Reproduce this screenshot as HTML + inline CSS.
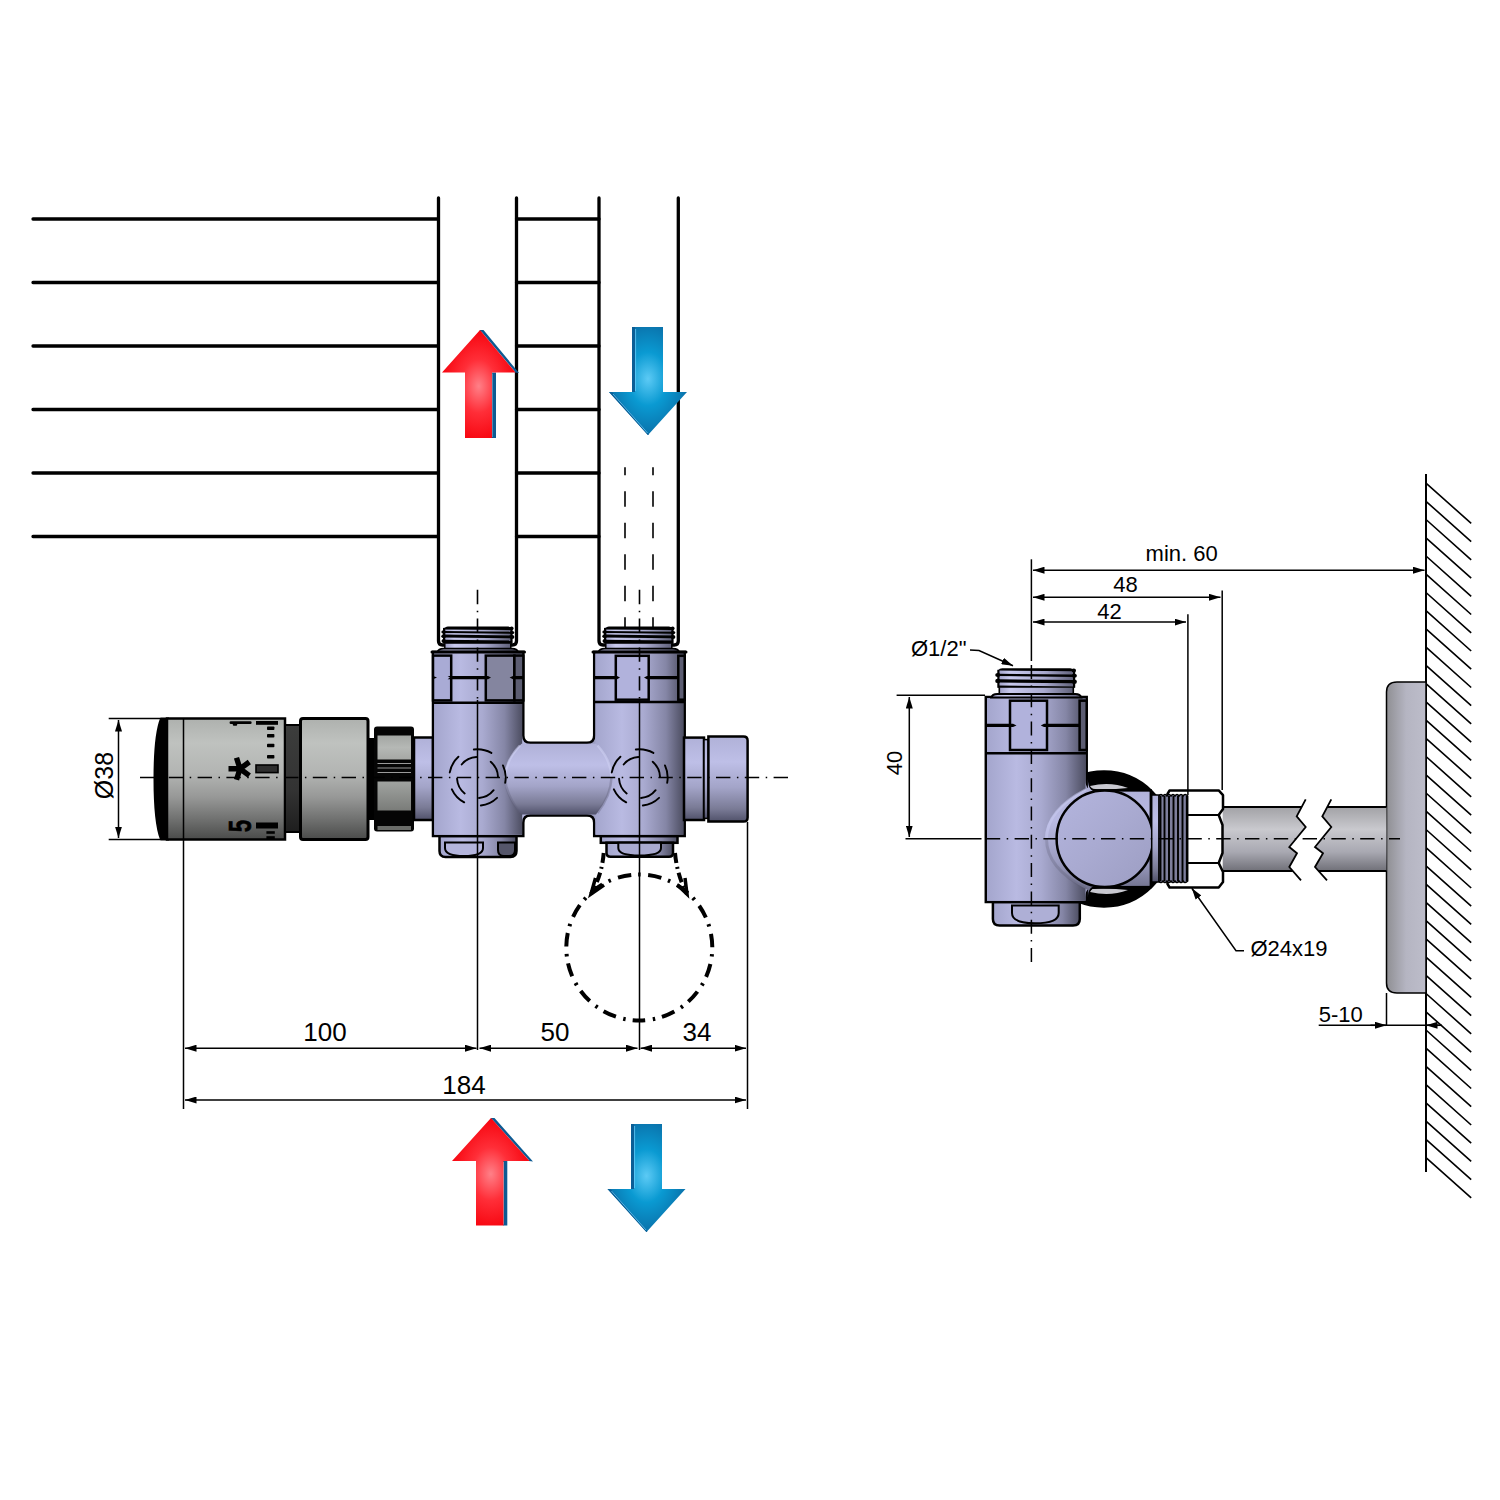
<!DOCTYPE html>
<html><head><meta charset="utf-8">
<style>
html,body{margin:0;padding:0;background:#fff;width:1500px;height:1500px;overflow:hidden}
svg{display:block}
text{font-family:"Liberation Sans",sans-serif;fill:#000}
</style></head>
<body>
<svg width="1500" height="1500" viewBox="0 0 1500 1500">
<defs>
  <linearGradient id="gBody" x1="0" x2="1" y1="0" y2="0">
    <stop offset="0" stop-color="#a4a6cd"/>
    <stop offset="0.3" stop-color="#b9bae2"/>
    <stop offset="0.55" stop-color="#a9aad0"/>
    <stop offset="0.8" stop-color="#8586a6"/>
    <stop offset="1" stop-color="#4d4e62"/>
  </linearGradient>
  <linearGradient id="gHoriz" x1="0" x2="0" y1="0" y2="1">
    <stop offset="0" stop-color="#b0b1d8"/>
    <stop offset="0.3" stop-color="#bebfe7"/>
    <stop offset="0.6" stop-color="#a3a4c8"/>
    <stop offset="0.85" stop-color="#7a7b96"/>
    <stop offset="1" stop-color="#50516a"/>
  </linearGradient>
  <linearGradient id="gGrey" x1="0" x2="0" y1="0" y2="1">
    <stop offset="0" stop-color="#aeb1ae"/>
    <stop offset="0.2" stop-color="#bfc2bf"/>
    <stop offset="0.45" stop-color="#b3b5b3"/>
    <stop offset="0.65" stop-color="#979897"/>
    <stop offset="0.85" stop-color="#6c6d6c"/>
    <stop offset="1" stop-color="#4a4b4a"/>
  </linearGradient>
  <linearGradient id="gDark" x1="0" x2="0" y1="0" y2="1">
    <stop offset="0" stop-color="#3c3d3c"/>
    <stop offset="0.6" stop-color="#333"/>
    <stop offset="1" stop-color="#1e1e1e"/>
  </linearGradient>
  <linearGradient id="gPipe" x1="0" x2="0" y1="0" y2="1">
    <stop offset="0" stop-color="#a2a2a6"/>
    <stop offset="0.35" stop-color="#c9c9ce"/>
    <stop offset="0.7" stop-color="#a9a9b2"/>
    <stop offset="1" stop-color="#707078"/>
  </linearGradient>
  <linearGradient id="gPlate" x1="0" x2="1" y1="0" y2="0">
    <stop offset="0" stop-color="#8f8f93"/>
    <stop offset="0.5" stop-color="#b5b5c2"/>
    <stop offset="1" stop-color="#bdbdca"/>
  </linearGradient>
  <radialGradient id="gRed" cx="0.5" cy="0.52" r="0.55">
    <stop offset="0" stop-color="#ff8088"/>
    <stop offset="0.45" stop-color="#ff2e38"/>
    <stop offset="1" stop-color="#f6000a"/>
  </radialGradient>
  <radialGradient id="gBlue" cx="0.5" cy="0.48" r="0.55">
    <stop offset="0" stop-color="#5ccaf5"/>
    <stop offset="0.45" stop-color="#0a9ad2"/>
    <stop offset="1" stop-color="#0a6da6"/>
  </radialGradient>
  <marker id="ah" viewBox="0 0 11.5 7" refX="11.5" refY="3.5" markerWidth="11.5" markerHeight="7" markerUnits="userSpaceOnUse" orient="auto-start-reverse">
    <path d="M0,0 L11.5,3.5 L0,7 z" fill="#000"/>
  </marker>
  <linearGradient id="gThr" x1="0" x2="1" y1="0" y2="0">
    <stop offset="0" stop-color="#9fa0c6"/>
    <stop offset="0.15" stop-color="#c9caee"/>
    <stop offset="0.6" stop-color="#a9aacf"/>
    <stop offset="1" stop-color="#5f6078"/>
  </linearGradient>
  <g id="threadV">
    <!-- origin = thread top-left; width 75.9, body top at y=29.2 -->
    <rect x="1" y="18" width="74" height="8" fill="url(#gThr)" stroke="#000" stroke-width="1.6"/>
    <path d="M-7,29.2 Q-6,25.6 -1,25.6 H77 Q82,25.6 83,29.2 Z" fill="url(#gThr)" stroke="#000" stroke-width="2"/>
    <rect x="0" y="1" width="75.9" height="18" fill="url(#gThr)"/>
    <g fill="#000">
      <path d="M4,0 H72 Q75,0 76,2.5 L76,3 L0,2.2 Q1,0 4,0 Z"/>
      <path d="M0,5.4 L76,6.2 L76,8.6 L0,7.8 Z"/>
      <path d="M0,11 L76,11.8 L76,15 L0,14.2 Z"/>
      <path d="M0,17.3 L76,18.1 L76,19.5 L0,19.5 Z"/>
      <ellipse cx="-0.5" cy="6.6" rx="2.6" ry="2"/>
      <ellipse cx="-0.5" cy="12.6" rx="2.6" ry="2.2"/>
      <ellipse cx="76" cy="7.4" rx="2.6" ry="2"/>
      <ellipse cx="76" cy="13.4" rx="2.6" ry="2.2"/>
      <ellipse cx="75.5" cy="2.2" rx="2.2" ry="2"/>
      <rect x="-1" y="1.5" width="2.2" height="18"/>
      <rect x="74.7" y="1.5" width="2.2" height="18"/>
    </g>
  </g>
  <g id="threadL">
    <!-- origin = thread top-left; width 67.6, body top at y=25.6 -->
    <rect x="0.8" y="16" width="66" height="6.6" fill="url(#gThr)" stroke="#000" stroke-width="1.5"/>
    <path d="M-6.5,25.6 Q-5.5,22.2 -0.5,22.2 H68.1 Q73.1,22.2 74.1,25.6 Z" fill="url(#gThr)" stroke="#000" stroke-width="1.8"/>
    <rect x="0" y="1" width="67.6" height="16" fill="url(#gThr)"/>
    <g fill="#000">
      <path d="M4,0 H64 Q67,0 68,2.5 L68,3.6 L0,3 Q1,0 4,0 Z"/>
      <path d="M0,4.6 L68,5.4 L68,7.4 L0,6.6 Z"/>
      <path d="M0,8.2 L68,9 L68,11.8 L0,11 Z"/>
      <path d="M0,13.4 L68,14.2 L68,17.4 L0,17.4 Z"/>
      <ellipse cx="-0.3" cy="5.6" rx="2.4" ry="1.7"/>
      <ellipse cx="-0.3" cy="9.8" rx="2.4" ry="1.9"/>
      <ellipse cx="-0.3" cy="14.6" rx="2.2" ry="1.9"/>
      <ellipse cx="68" cy="6.2" rx="2.4" ry="1.7"/>
      <ellipse cx="68" cy="10.6" rx="2.4" ry="1.9"/>
      <ellipse cx="67.6" cy="2" rx="2" ry="1.8"/>
      <rect x="-1" y="1.5" width="2.2" height="15.5"/>
      <rect x="66.4" y="1.5" width="2.2" height="15.5"/>
    </g>
  </g>
  <linearGradient id="gCirc" x1="0" x2="1" y1="0" y2="1">
    <stop offset="0" stop-color="#b4b5de"/>
    <stop offset="0.5" stop-color="#a9aad1"/>
    <stop offset="1" stop-color="#9c9dc2"/>
  </linearGradient>
  <linearGradient id="gBlock" x1="0" x2="0" y1="0" y2="1">
    <stop offset="0" stop-color="#aeafd6"/>
    <stop offset="0.35" stop-color="#b9bae3"/>
    <stop offset="0.7" stop-color="#9a9bbf"/>
    <stop offset="1" stop-color="#62637c"/>
  </linearGradient>
  <linearGradient id="gWinU" x1="0" x2="0" y1="0" y2="1">
    <stop offset="0" stop-color="#a3a6a3"/>
    <stop offset="0.5" stop-color="#b5b8b5"/>
    <stop offset="1" stop-color="#a6a8a5"/>
  </linearGradient>
  <linearGradient id="gWinL" x1="0" x2="0" y1="0" y2="1">
    <stop offset="0" stop-color="#a0a3a0"/>
    <stop offset="1" stop-color="#7a7c79"/>
  </linearGradient>
</defs>
<!-- radiator -->
<g stroke="#000" stroke-width="3.3" stroke-linecap="round" fill="none">
  <path d="M33,219H438 M33,282.5H438 M33,346H438 M33,409.5H438 M33,473H438 M33,536.5H438"/>
  <path d="M516.5,219H599 M516.5,282.5H599 M516.5,346H599 M516.5,409.5H599 M516.5,473H599 M516.5,536.5H599"/>
  <path d="M438.5,198V641 Q438.5,645 442.5,645 H445 M516.5,198V641 Q516.5,645 512.5,645 H510"/>
  <path d="M599,198V641 Q599,645 603,645 H606 M678.3,198V641 Q678.3,645 674.3,645 H672"/>
</g>
<g stroke="#000" stroke-width="1.6" stroke-dasharray="15.5,16" stroke-dashoffset="7.5" fill="none">
  <path d="M625,467.3V630 M653,467.3V630"/>
</g>

<!-- arrows top -->
<path d="M479.5,330 L483.5,330 L519,373 L515,372.5 Z M491.5,372.5 H496 V438 H491.5 Z" fill="#0d5a92"/>
<path d="M481,331.5 L514.5,371.5 M492,373.5 V437" stroke="#ffffff" stroke-width="0.8" opacity="0.7"/>
<path d="M480,330 L515.5,372.5 L492,372.5 L492,438 L465,438 L465,372.5 L442,372.5 Z" fill="url(#gRed)"/>
<path d="M632,327 H663 V392 H687 L648,435 L609,392 H632 Z" fill="url(#gBlue)"/>
<path d="M632,327 H635 V392 H632 Z M609,392 L612.5,392.5 L649,435 L647.8,435 Z" fill="#0b5e96"/>
<path d="M635.6,329 V391 M613,394 L647.5,433" stroke="#6fd3ff" stroke-width="0.9" opacity="0.8" fill="none"/>
<!-- arrows bottom -->
<path d="M490.5,1118 L494.5,1118 L533,1161.5 L529,1161 Z M503,1161 H507.3 V1225.5 H503 Z" fill="#0d5a92"/>
<path d="M492,1119.5 L528.5,1160 M503.5,1162 V1224.5" stroke="#ffffff" stroke-width="0.8" opacity="0.7"/>
<path d="M491,1118 L529.5,1161 L503.5,1161 L503.5,1225.5 L476,1225.5 L476,1161 L452,1161 Z" fill="url(#gRed)"/>
<path d="M631,1124 H662 V1189 H685.5 L646.5,1232 L607.5,1189 H631 Z" fill="url(#gBlue)"/>
<path d="M631,1124 H634 V1189 H631 Z M607.5,1189 L611,1189.5 L647.5,1232 L646.3,1232 Z" fill="#0b5e96"/>
<path d="M634.6,1126 V1188 M611.5,1191 L646,1230" stroke="#6fd3ff" stroke-width="0.9" opacity="0.8" fill="none"/>

<!-- threads on pipes -->
<use href="#threadL" transform="translate(444,626.4)"/>
<use href="#threadL" transform="translate(605,626.4)"/>

<!-- ===== thermostat head ===== -->
<path d="M168,718.5 H161 Q154.5,735 154.5,779 Q154.5,823 161,839.5 H168 Z" fill="#000" stroke="#000" stroke-width="2"/>
<rect x="167" y="718.5" width="118" height="121" fill="url(#gGrey)" stroke="#000" stroke-width="2.5"/>
<rect x="285" y="725" width="15.5" height="107" fill="url(#gDark)" stroke="#000" stroke-width="2"/>
<rect x="300.5" y="718.5" width="67.5" height="121" rx="2.5" fill="url(#gGrey)" stroke="#000" stroke-width="3"/>
<rect x="367" y="738" width="8" height="82" fill="#000"/>
<rect x="374" y="726.5" width="40" height="105" rx="3" fill="#050505"/>
<rect x="377.5" y="735.5" width="33.5" height="24" fill="url(#gWinU)"/>
<rect x="377.5" y="781.5" width="33.5" height="29" fill="url(#gWinL)"/>
<rect x="377.5" y="826" width="33.5" height="4" fill="#6a6c69"/>
<path d="M377.5,763.5H411 M377.5,768H411 M377.5,772.5H411" stroke="#9a9a9a" stroke-width="1"/>
<!-- dial marks -->
<g fill="#000">
  <rect x="256" y="721" width="22" height="3.8"/>
  <rect x="267" y="726.5" width="7.4" height="3.5" rx="0.8"/>
  <rect x="267" y="734" width="7.4" height="3.5" rx="0.8"/>
  <rect x="267" y="743.8" width="7.4" height="3.5" rx="0.8"/>
  <rect x="267" y="755" width="7.4" height="3.5" rx="0.8"/>
  <rect x="256" y="765" width="22" height="7.6" fill="#2e2e2e" stroke="#000" stroke-width="1.6"/>
  <rect x="256" y="822.5" width="22" height="6"/>
  <rect x="266.4" y="831.2" width="8.4" height="2.6" />
  <rect x="266.4" y="836.2" width="8.4" height="2.8" />
  <rect x="229.6" y="721.2" width="22" height="2.8" rx="1.2"/><rect x="232.8" y="722" width="4.4" height="3.8" rx="1"/>
  <text transform="translate(251,826) rotate(-90) scale(0.72,1)" font-size="31" font-weight="bold" text-anchor="middle" stroke="#000" stroke-width="0.6">5</text>
  <g transform="translate(240,768.8)" stroke="#000" stroke-width="5.4" stroke-linecap="butt">
    <path d="M0,0 L-11.5,0 M0,0 L-3.5,-11 M0,0 L9.3,-6.8 M0,0 L9.3,6.8 M0,0 L-3.5,11"/>
  </g>
</g>

<!-- lavender extension left -->
<rect x="414" y="737.5" width="19" height="82.5" fill="url(#gHoriz)" stroke="#000" stroke-width="2.5"/>

<!-- ===== left view valve ===== -->
<g stroke="#000" stroke-width="2.5">
  <!-- caps -->
  <path d="M439.5,836 H516.5 V851 Q516.5,857 510.5,857 H445.5 Q439.5,857 439.5,851 Z" fill="url(#gBody)"/>
  <path d="M445,842.5 H483 V848 Q483,856 464,856 Q445,856 445,848 Z" fill="#b4b5dc" stroke-width="2"/>
  <path d="M498,842.5 H515 V850 Q515,856 509,856 H504 Q498,856 498,850 Z" fill="#55566a" stroke-width="2"/>
  <rect x="600.8" y="836" width="76.7" height="6.8" fill="url(#gBody)"/>
  <path d="M606.5,842.7 H673 V853 Q673,856.7 669,856.7 H610.5 Q606.5,856.7 606.5,853 Z" fill="url(#gBody)"/>
  <path d="M618.3,842.7 H661 V848 Q661,855.5 639.6,855.5 Q618.3,855.5 618.3,848 Z" fill="#a9aad0" stroke-width="2"/>
  <!-- body outline combined -->
  <path d="M433,652 H523.3 V735.5 Q523.3,742.8 530.5,742.8 H587 Q594.2,742.8 594.2,735.5 V652 H684.7 V836 H594.2 V822.8 Q594.2,815.6 587,815.6 H530.5 Q523.3,815.6 523.3,822.8 V836 H433 Z" fill="url(#gBody)"/>
</g>
<!-- cylinder gradient overlays -->
<rect x="434.2" y="653.2" width="88" height="181.6" fill="url(#gBody)"/>
<rect x="595.4" y="653.2" width="88.1" height="181.6" fill="url(#gBody)"/>
<!-- bridge -->
<path d="M521.5,743.8 Q505,760 504,777.5 Q505,795 521.5,814.6 H596 Q611,795 612.5,777.5 Q611,760 596,743.8 Z" fill="url(#gHoriz)"/>
<path d="M520,745.5 Q506,760 505,777.5 M597.5,745.5 Q611,760 611.5,777.5" stroke="#cdcef2" stroke-width="2.5" fill="none" opacity="0.6"/>
<path d="M505,777.5 Q506,795 520,813 M611.5,777.5 Q611,795 597.5,813" stroke="#5e5f78" stroke-width="2.5" fill="none" opacity="0.35"/>

<!-- hex flats left valve -->
<g stroke="#000" stroke-width="2.5">
  <rect x="433" y="655.6" width="18.2" height="44.8" fill="#a9abd5"/>
  <rect x="485.8" y="655.6" width="28.6" height="44.8" fill="#84859f"/>
  <rect x="514.4" y="655.6" width="9" height="44.8" fill="#5c5d72"/>
</g>
<g stroke="#000" stroke-width="2.5">
  <rect x="615.8" y="655.8" width="32.9" height="43.9" fill="#b1b2dc"/>
  <rect x="678.3" y="655.8" width="6.4" height="43.9" fill="#5c5d72"/>
</g>
<path d="M433,702.8 H523.3 M594.2,702 H684.7" stroke="#000" stroke-width="2.5"/>
<path d="M432,652 H524.5 M593,652 H686" stroke="#000" stroke-width="3" stroke-linecap="round"/>
<g fill="#000">
  <path d="M447.6,676 H488 L491,677.6 L488,679.2 H447.6 L450,677.6 Z"/>
  <path d="M509.6,677.6 L513,676 H523.3 V679.2 H513 Z"/>
  <path d="M433,676 L437,677.6 L433,679.2 Z"/>
  <path d="M594.2,676 H617 L620,677.6 L617,679.2 H594.2 Z"/>
  <path d="M644,677.6 L647,676 H678.3 V679.2 H647 Z"/>
</g>

<!-- right extension -->
<g stroke="#000" stroke-width="2.5">
  <rect x="684" y="737.6" width="20" height="82.4" fill="url(#gHoriz)"/>
  <rect x="704" y="739.6" width="4.4" height="78.8" fill="url(#gHoriz)" stroke-width="1.5"/>
  <path d="M708.4,736.4 H743.5 Q747.6,736.4 747.6,740.5 V817.5 Q747.6,821.6 743.5,821.6 H708.4 Z" fill="url(#gHoriz)"/>
</g>

<!-- dashed circles in body -->
<g stroke="#000" stroke-width="1.9" fill="none" stroke-linecap="round">
  <circle cx="477.5" cy="777.5" r="20.5" stroke-dasharray="16.82,15.39" stroke-dashoffset="-13.60"/>
  <circle cx="477.5" cy="777.5" r="28.2" stroke-dasharray="18.21,17.23" stroke-dashoffset="-22.64"/>
  <circle cx="639.5" cy="777.5" r="20.5" stroke-dasharray="16.82,15.39" stroke-dashoffset="-13.60"/>
  <circle cx="639.5" cy="777.5" r="28.2" stroke-dasharray="18.21,17.23" stroke-dashoffset="-22.64"/>
</g>
<!-- centre lines -->
<g stroke="#000" stroke-width="1.6" stroke-dasharray="14.4,6.5,1.5,6.4" fill="none">
  <path d="M140,777.5 H790"/>
  <path d="M477.5,589.8 V700"/>
  <path d="M639.5,589.8 V700"/>
</g>

<!-- dimensions left -->
<g stroke="#000" stroke-width="1.5" fill="none">
  <path d="M108.7,718.5 H160 M108.7,839.5 H160"/>
  <path d="M118.5,720 V838" marker-start="url(#ah)" marker-end="url(#ah)"/>
  <path d="M183.5,718 V1109 M747.5,822 V1109 M477.5,700 V1050 M639.5,700 V1050"/>
  <path d="M185,1048.2 H476.5" marker-start="url(#ah)" marker-end="url(#ah)"/>
  <path d="M479.5,1048.2 H637.5" marker-start="url(#ah)" marker-end="url(#ah)"/>
  <path d="M640.5,1048.2 H746" marker-start="url(#ah)" marker-end="url(#ah)"/>
  <path d="M185,1100 H746" marker-start="url(#ah)" marker-end="url(#ah)"/>
</g>
<g font-size="26" text-anchor="middle">
  <text x="325" y="1041">100</text>
  <text x="555" y="1041">50</text>
  <text x="697" y="1041">34</text>
  <text x="464" y="1094">184</text>
  <text transform="translate(113,775.5) rotate(-90)" font-size="25">Ø38</text>
</g>

<!-- dashed circle & arrows -->
<g stroke="#000" stroke-width="4" fill="none">
  <path d="M639.3,1020.5 A73,73 0 1,1 639.3,874.5 A73,73 0 1,1 639.3,1020.5" stroke-dasharray="13.5,7,2.5,7.58" stroke-dashoffset="6.75"/>
  <path d="M603.7,853 Q602,875 591,894" stroke-dasharray="10,4,2,4"/>
  <path d="M675,853 Q677,875 687,894" stroke-dasharray="10,4,2,4"/>
  <path d="M604,885 L591,894 L595.5,878 M677.5,885 L687,894 L685,878" stroke-width="3.5"/>
</g>

<!-- ============ RIGHT VIEW ============ -->
<path d="M1426,474 V1172" stroke="#000" stroke-width="2" fill="none"/>
<path d="M1426,483.1L1471.2,523.4M1426,501.3L1471.2,541.6M1426,519.5L1471.2,559.8M1426,537.8L1471.2,578.1M1426,556.0L1471.2,596.3M1426,574.2L1471.2,614.5M1426,592.5L1471.2,632.8M1426,610.7L1471.2,651.0M1426,628.9L1471.2,669.2M1426,647.2L1471.2,687.5M1426,665.4L1471.2,705.7M1426,683.6L1471.2,723.9M1426,701.8L1471.2,742.1M1426,720.1L1471.2,760.4M1426,738.3L1471.2,778.6M1426,756.5L1471.2,796.8M1426,774.8L1471.2,815.1M1426,793.0L1471.2,833.3M1426,811.2L1471.2,851.5M1426,829.5L1471.2,869.8M1426,847.7L1471.2,888.0M1426,865.9L1471.2,906.2M1426,884.1L1471.2,924.4M1426,902.4L1471.2,942.7M1426,920.6L1471.2,960.9M1426,938.8L1471.2,979.1M1426,957.1L1471.2,997.4M1426,975.3L1471.2,1015.6M1426,993.5L1471.2,1033.8M1426,1011.8L1471.2,1052.1M1426,1030.0L1471.2,1070.3M1426,1048.2L1471.2,1088.5M1426,1066.4L1471.2,1106.7M1426,1084.7L1471.2,1125.0M1426,1102.9L1471.2,1143.2M1426,1121.1L1471.2,1161.4M1426,1139.4L1471.2,1179.7M1426,1157.6L1471.2,1197.9" stroke="#000" stroke-width="1.6" fill="none"/>

<!-- wall plate -->
<path d="M1426,682 H1397 Q1386.5,682 1386.5,692 V983 Q1386.5,993 1397,993 H1426 Z" fill="url(#gPlate)" stroke="#000" stroke-width="1.5"/>
<!-- pipe with break -->
<path d="M1222.7,807 H1301.6 L1296.7,816.3 L1305.7,827 L1289.3,847 L1297,853.3 L1289.3,867 L1292.8,871 H1222.7 Z" fill="url(#gPipe)"/>
<path d="M1327.2,807 H1386.5 V871 H1318.6 L1315,867 L1323,853.3 L1315,847 L1331.3,827 L1322.3,816.3 Z" fill="url(#gPipe)"/>
<path d="M1222.7,807 H1301.6 M1222.7,871 H1292.8 M1327.2,807 H1386.5 M1318.6,871 H1386.5" stroke="#000" stroke-width="2.2"/>
<path d="M1305.7,799.3 L1296.7,816.3 L1305.7,827 L1289.3,847 L1297,853.3 L1289.3,867 L1301,880.3 M1331.3,799.3 L1322.3,816.3 L1331.3,827 L1315,847 L1323,853.3 L1315,867 L1327,880.3" fill="none" stroke="#000" stroke-width="1.8" stroke-linejoin="miter"/>

<!-- right valve body -->
<g stroke="#000" stroke-width="2.5">
  <circle cx="1104" cy="839" r="67.5" fill="#000"/>
  <path d="M1090,786 Q1110,781 1128,788 Q1110,790 1092,789 Z M1090,892 Q1110,897 1128,890 Q1110,888 1092,889 Z" fill="#c8c8d0" stroke="none"/>
  <path d="M992.9,902 H1079.8 V919 Q1079.8,925.6 1073,925.6 H999.6 Q992.9,925.6 992.9,919 Z" fill="url(#gBody)"/>
  <path d="M1012,905.5 H1058.7 V913 Q1058.7,923.3 1035.3,923.3 Q1012,923.3 1012,913 Z" fill="#aeafd6" stroke-width="2"/>
  <path d="M985.8,697 H1086.7 V780 Q1086.7,790.6 1097,790.6 H1150.7 V887 H1097 Q1086.7,887 1086.7,897 V902 H985.8 Z" fill="url(#gBody)"/>
</g>
<rect x="987" y="698.2" width="98.5" height="202.6" fill="url(#gBody)"/>
<path d="M1087.9,779 Q1087.9,791.8 1097,791.8 H1149.5 V885.8 H1097 Q1087.9,885.8 1087.9,898 L1087.9,890 C1060,876 1045,858 1045,839 C1045,820 1060,802 1087.9,788 Z" fill="url(#gBlock)"/>
<path d="M1086,789.5 C1060,803 1046.5,820 1046.5,839" fill="none" stroke="#c9caf0" stroke-width="3" opacity="0.55"/>
<path d="M1046.5,839 C1046.5,858 1060,875 1086,888.5" fill="none" stroke="#5c5d75" stroke-width="3" opacity="0.3"/>
<g stroke="#000" stroke-width="2.5">
  <circle cx="1104.8" cy="838.7" r="48.2" fill="url(#gCirc)"/>
  <rect x="1151.7" y="795" width="7.5" height="87" fill="url(#gHoriz)" stroke-width="1.5"/>
</g>
<!-- hex nut -->
<path d="M1169.6,790.4 H1218.7 L1223,795.2 V809 L1218.7,815 L1222.5,825 V853 L1218.7,863 L1223,872 V882 L1218.7,887.5 H1169.6 L1167.5,884 V794 Z" fill="#fff" stroke="#000" stroke-width="2.5" stroke-linejoin="round"/>
<path d="M1167.5,815 H1218.7 M1167.5,863 H1218.7" fill="none" stroke="#000" stroke-width="2.2"/>
<!-- thread -->
<path d="M1159,796 Q1161,793 1163,796 Q1165,793 1167,796 Q1169,793 1171,796 Q1173,793 1175,796 Q1177,793 1179,796 Q1181,793 1183,796 Q1185,793 1187.7,796 V881 Q1185,884 1183,881 Q1181,884 1179,881 Q1177,884 1175,881 Q1173,884 1171,881 Q1169,884 1167,881 Q1165,884 1163,881 Q1161,884 1159,881 Z" fill="#7d7e9c" stroke="#000" stroke-width="1.5"/>
<path d="M1160.5,796V881 M1164.5,796V881 M1169,796V881 M1173.5,796V881 M1178,796V881 M1182.5,796V881 M1186.8,796V881" stroke="#000" stroke-width="1.9"/>
<!-- top thread & collar on right view -->
<use href="#threadV" transform="translate(998.3,668.3)"/>
<g stroke="#000" stroke-width="2.5">
  <rect x="1010" y="700.7" width="37" height="49.3" fill="#b1b2dc"/>
  <rect x="1079.6" y="700.7" width="7.1" height="49.3" fill="#5c5d72"/>
</g>
<path d="M985.8,753.3 H1086.7" stroke="#000" stroke-width="2.5"/>
<g fill="#000">
  <path d="M985.8,723.8 H1013 L1016.5,725.4 L1013,727 H985.8 Z"/>
  <path d="M1040.8,725.4 L1044,723.8 H1079.6 V727 H1044 Z"/>
</g>

<!-- right dims -->
<g stroke="#000" stroke-width="1.5" fill="none">
  <path d="M1031.4,559.3 V661"/>
  <path d="M1031.4,665 V962" stroke-dasharray="14,6.4,1.5,6.4"/>
  <path d="M1033,570.2 H1424.5" marker-start="url(#ah)" marker-end="url(#ah)"/>
  <path d="M1033,597.3 H1220.5" marker-start="url(#ah)" marker-end="url(#ah)"/>
  <path d="M1033,622.1 H1186" marker-start="url(#ah)" marker-end="url(#ah)"/>
  <path d="M1222.2,590.4 V790 M1187.9,614.2 V795"/>
  <path d="M896.6,695.3 H985 M905.5,838.8 H981.5"/>
  <path d="M909.3,697 V837" marker-start="url(#ah)" marker-end="url(#ah)"/>
  <path d="M970,650 L979,650.5 L1013,665.7" marker-end="url(#ah)"/>
  <path d="M1244,950.7 H1236 L1191.8,888.2" marker-end="url(#ah)"/>
  <path d="M1386.5,993 V1025.3 M1318.7,1025.3 H1439.2"/>
  <path d="M1370.5,1025.3 H1386.5" marker-end="url(#ah)"/>
  <path d="M1442,1025.3 H1426" marker-end="url(#ah)"/>
  <path d="M985.8,838.8 H1400" stroke-dasharray="14.4,6.5,1.5,6.4"/>
</g>
<g font-size="22">
  <text x="1145.6" y="560.5">min. 60</text>
  <text x="1125.4" y="592.2" text-anchor="middle">48</text>
  <text x="1109.4" y="618.8" text-anchor="middle">42</text>
  <text x="911" y="655.5">Ø1/2"</text>
  <text x="1250.4" y="956">Ø24x19</text>
  <text x="1318.7" y="1022">5-10</text>
  <text transform="translate(902,763) rotate(-90)" text-anchor="middle">40</text>
</g>
</svg>
</body></html>
